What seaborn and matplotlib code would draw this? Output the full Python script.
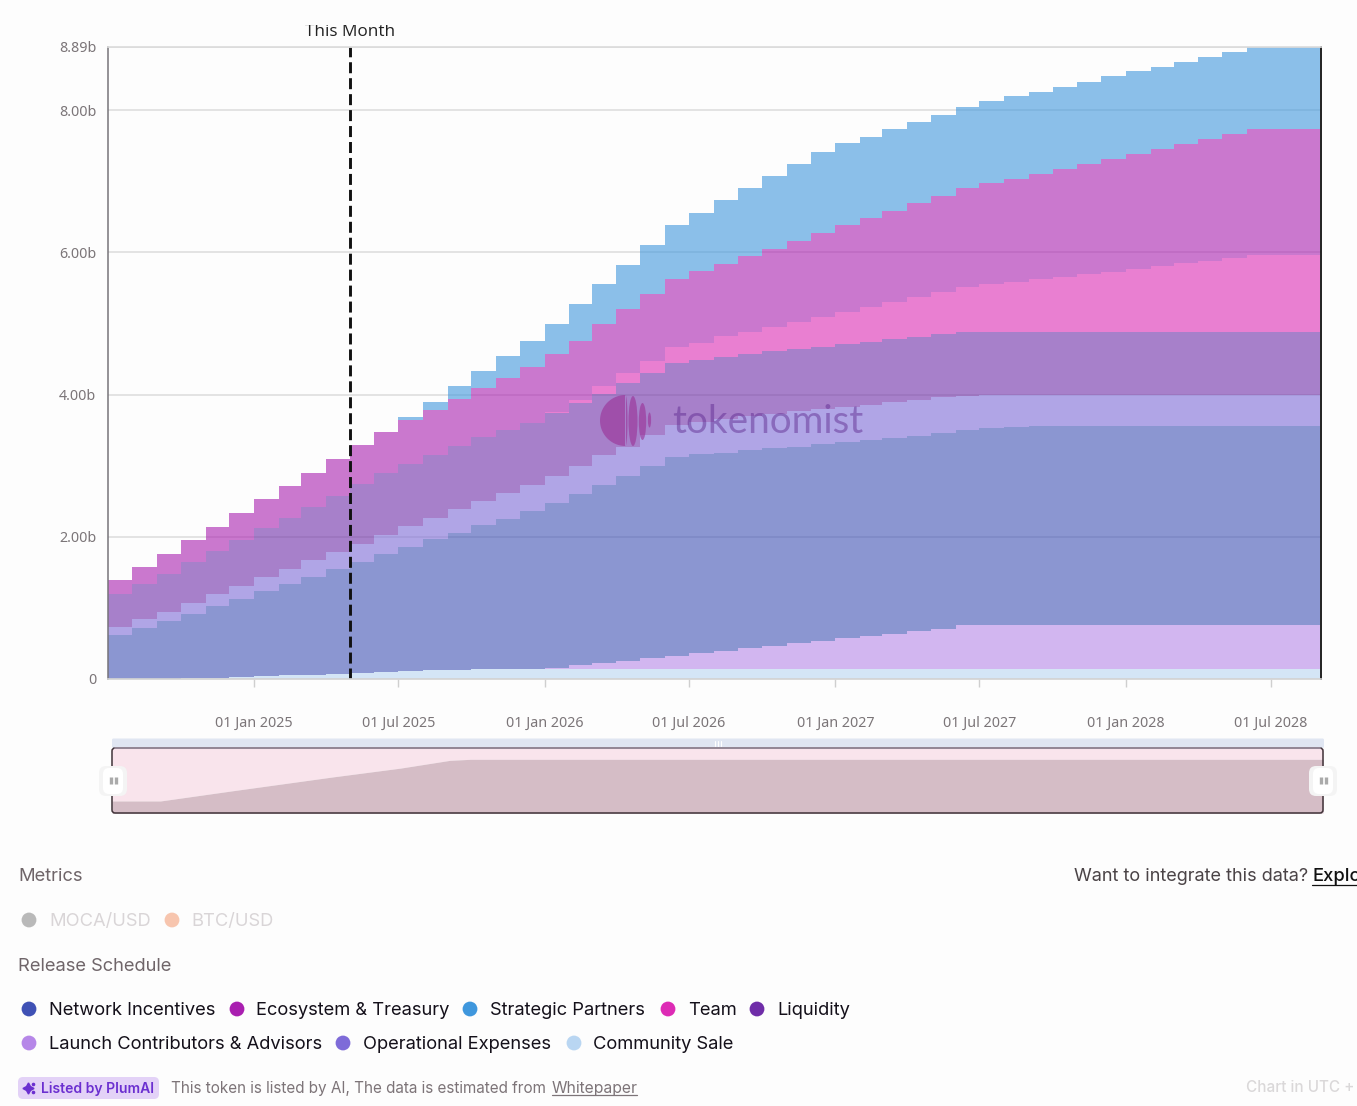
"""
Token release schedule chart (stacked monthly steps) with the page controls around it
"""

import matplotlib
matplotlib.use('Agg')
import matplotlib.dates as mdates
import matplotlib.pyplot as plt
import numpy as np
import pandas as pd
import seaborn as sns
from matplotlib.patches import Circle, Ellipse, FancyBboxPatch, Polygon
from matplotlib.transforms import Bbox

W, H = 1357, 1106
BG = '#fdfdfd'
UI_FONT = 'Inter'
AXIS_FONT = 'Noto Sans'

# Top of each stacked band in billions, one value per month from Jul 2024
community_top = [0, 0, 0, .01, .02, .03, .04, .05, .06, .07, .085, .10, .11, .12, .13, .135, .14, .14,
                 .14, .14, .14, .14, .14, .14, .14, .14, .14, .14, .14, .14, .14, .14, .14, .14, .14, .14,
                 .14, .14, .14, .14, .14, .14, .14, .14, .14, .14, .14, .14, .14, .14]
launch_top = [0, 0, 0, .01, .02, .03, .04, .05, .06, .07, .085, .10, .11, .12, .13, .135, .14, .14,
              .155, .19, .22, .25, .29, .32, .36, .40, .43, .47, .50, .54, .57, .60, .64, .67, .71, .755,
              .76, .76, .76, .76, .76, .76, .76, .76, .76, .76, .76, .76, .76, .76]
network_top = [.62, .72, .82, .91, 1.025, 1.13, 1.24, 1.34, 1.44, 1.545, 1.65, 1.755, 1.86, 1.965, 2.06,
               2.16, 2.255, 2.365, 2.48, 2.60, 2.725, 2.85, 2.99, 3.12, 3.16, 3.18, 3.22, 3.25, 3.27,
               3.30, 3.33, 3.36, 3.39, 3.42, 3.46, 3.50, 3.53, 3.55, 3.555, 3.555, 3.555, 3.555, 3.555,
               3.555, 3.555, 3.555, 3.555, 3.555, 3.555, 3.555]
opex_top = [.73, .84, .945, 1.07, 1.19, 1.31, 1.44, 1.545, 1.67, 1.79, 1.905, 2.02, 2.15, 2.27, 2.39,
            2.50, 2.61, 2.725, 2.85, 2.99, 3.145, 3.27, 3.43, 3.57, 3.62, 3.66, 3.70, 3.73, 3.77, 3.80,
            3.83, 3.86, 3.89, 3.93, 3.96, 3.985, 4.0, 4.0, 4.0, 4.0, 4.0, 4.0, 4.0, 4.0, 4.0, 4.0, 4.0,
            4.0, 4.0, 4.0]
liquidity_top = [1.19, 1.34, 1.48, 1.65, 1.80, 1.96, 2.12, 2.27, 2.42, 2.58, 2.74, 2.90, 3.02, 3.155,
                 3.28, 3.40, 3.50, 3.605, 3.74, 3.88, 4.01, 4.16, 4.30, 4.45, 4.49, 4.53, 4.57, 4.61,
                 4.64, 4.67, 4.71, 4.74, 4.78, 4.81, 4.85, 4.875, 4.88, 4.88, 4.88, 4.88, 4.88, 4.88,
                 4.88, 4.88, 4.88, 4.88, 4.88, 4.88, 4.88, 4.88]
team_top = [1.19, 1.34, 1.48, 1.65, 1.80, 1.96, 2.12, 2.27, 2.42, 2.58, 2.74, 2.90, 3.02, 3.155, 3.28,
            3.40, 3.50, 3.605, 3.76, 3.93, 4.115, 4.30, 4.475, 4.67, 4.73, 4.82, 4.88, 4.95, 5.02, 5.09,
            5.16, 5.23, 5.31, 5.38, 5.45, 5.52, 5.56, 5.59, 5.63, 5.66, 5.70, 5.73, 5.77, 5.81, 5.85,
            5.88, 5.92, 5.96, 5.96, 5.96]
ecosystem_top = [1.39, 1.58, 1.76, 1.95, 2.14, 2.33, 2.53, 2.71, 2.90, 3.09, 3.29, 3.47, 3.64, 3.79,
                 3.94, 4.09, 4.24, 4.39, 4.57, 4.76, 4.99, 5.20, 5.42, 5.63, 5.74, 5.84, 5.955, 6.05,
                 6.16, 6.27, 6.38, 6.48, 6.58, 6.69, 6.79, 6.90, 6.97, 7.04, 7.10, 7.17, 7.24, 7.32,
                 7.39, 7.46, 7.53, 7.60, 7.67, 7.73, 7.73, 7.73]
strategic_top = [1.39, 1.58, 1.76, 1.95, 2.14, 2.33, 2.53, 2.71, 2.90, 3.09, 3.29, 3.47, 3.68, 3.90,
                 4.115, 4.335, 4.54, 4.75, 5.0, 5.27, 5.55, 5.83, 6.11, 6.39, 6.56, 6.74, 6.91, 7.08,
                 7.25, 7.42, 7.54, 7.63, 7.73, 7.84, 7.94, 8.05, 8.13, 8.20, 8.26, 8.33, 8.40, 8.48,
                 8.55, 8.61, 8.68, 8.75, 8.82, 8.89, 8.89, 8.89]

# Bands bottom to top
band_names = ['Community Sale', 'Launch Contributors & Advisors', 'Network Incentives',
              'Operational Expenses', 'Liquidity', 'Team', 'Ecosystem & Treasury', 'Strategic Partners']
band_tops = [community_top, launch_top, network_top, opex_top, liquidity_top, team_top,
             ecosystem_top, strategic_top]
band_colors = ['#b9d6f2', '#b687e8', '#3f51b5', '#7e6bd8', '#6f2da8', '#dd2bb5', '#a91fb0', '#3f97dd']

y_ticks = [0, 2, 4, 6, 8, 8.89]
y_labels = ['0', '2.00b', '4.00b', '6.00b', '8.00b', '8.89b']
x_ticks = ['2025-01-01', '2025-07-01', '2026-01-01', '2026-07-01', '2027-01-01', '2027-07-01',
           '2028-01-01', '2028-07-01']
x_labels = ['01 Jan 2025', '01 Jul 2025', '01 Jan 2026', '01 Jul 2026', '01 Jan 2027', '01 Jul 2027',
            '01 Jan 2028', '01 Jul 2028']
this_month = '2025-05-01'

# Range slider preview, share of slider width against share of slider height
nav_x = [0, .04, .10, .182, .238, .279, .296, 1]
nav_y = [.185, .185, .343, .554, .69, .81, .826, .826]

# Legend rows: label, dot x, text x, row y
legend_rows = [('Network Incentives', 29, 49, 1009), ('Ecosystem & Treasury', 237, 256, 1009),
               ('Strategic Partners', 470, 490, 1009), ('Team', 668, 688, 1009),
               ('Liquidity', 757, 777, 1009), ('Launch Contributors & Advisors', 29, 49, 1043),
               ('Operational Expenses', 343, 363, 1043), ('Community Sale', 574, 593, 1043)]

sns.set_theme(style='white')
plt.rcParams['font.family'] = [UI_FONT, 'DejaVu Sans']

months = pd.date_range('2024-07-01', '2028-09-01', freq='MS')
edges = mdates.date2num(months)
tops = np.array(band_tops)
amounts = np.diff(np.vstack([np.zeros(len(months) - 1), tops]), axis=0)

df = pd.DataFrame({
    'date': np.tile(edges[:-1], len(band_names)),
    'series': np.repeat(band_names, len(months) - 1),
    'value': amounts.ravel(),
})

fig = plt.figure(figsize=(W / 100, H / 100), dpi=100, facecolor=BG)


def px_axes(left, top, right, bottom):
    return fig.add_axes([left / W, 1 - bottom / H, (right - left) / W, (bottom - top) / H])


# Main chart
ax = px_axes(108, 47, 1321, 679)
ax.set_facecolor(BG)
ax.set_axisbelow(True)
ax.grid(True, axis='y', color='#dcdcdc', linewidth=1.1)
sns.histplot(data=df, x='date', weights='value', hue='series', hue_order=band_names[::-1],
             multiple='stack', element='step', bins=list(edges), palette=dict(zip(band_names, band_colors)),
             alpha=0.6, linewidth=0, legend=False, ax=ax)
ax.set_xlim(edges[0] + 0.5, edges[-1] + 1)
ax.set_ylim(0, 8.89)
ax.set_xlabel('')
ax.set_ylabel('')
ax.set_yticks(y_ticks)
ax.set_yticklabels(y_labels, family=AXIS_FONT, fontsize=10.3, color='#7b7578')
ax.set_xticks(mdates.date2num(pd.to_datetime(x_ticks)))
ax.set_xticklabels(x_labels, family=AXIS_FONT, fontsize=10.3, color='#7b7578')
ax.tick_params(axis='y', length=0, pad=8.5)
ax.tick_params(axis='x', length=6, width=1, color='#cfcfcf', pad=20.5, bottom=True)
for side in ['top', 'bottom', 'left', 'right']:
    ax.spines[side].set_visible(True)
ax.spines['top'].set_color('#dcdcdc')
ax.spines['bottom'].set_color('#d4d4d4')
ax.spines['left'].set_color('#77747a')
ax.spines['left'].set_linewidth(1.1)
ax.spines['right'].set_color('#111111')
ax.spines['right'].set_linewidth(1.3)
ax.axvline(mdates.date2num(pd.Timestamp(this_month)), color='#111111', linewidth=2.1, dashes=(3.77, 1.7))

# Range slider preview
nav = px_axes(112, 748, 1323, 813)
nav.set_xlim(0, 1)
nav.set_ylim(0, 1)
nav.axis('off')
nav.fill_between(nav_x, nav_y, 1, color='#f9e4ec', linewidth=0)
nav.fill_between(nav_x, 0, nav_y, color='#d5bdc6', linewidth=0)

# Everything else is placed in page pixels
ui = fig.add_axes([0, 0, 1, 1], facecolor='none')
ui.set_xlim(0, W)
ui.set_ylim(H, 0)
ui.axis('off')


def label(x, y, s, color, size=13.2, weight='normal', ha='left', family=UI_FONT):
    return ui.text(x, y + 1.5, s, color=color, fontsize=size, fontweight=weight, ha=ha, va='center',
                   family=family)


def lens(cx, cy, half_w, half_h, color):
    ui.add_patch(Ellipse((cx, cy), half_w * 2, half_h * 2, facecolor=color, edgecolor='none', alpha=.6))


# This Month label, cut off at the top in the source
month_text = label(350, 30, 'This Month', '#222222', size=12.3, ha='center', family='Open Sans')
month_text.set_clip_box(Bbox([[290, H - 42], [420, H - 25]]))
month_text.set_clip_on(True)

# Watermark
logo_color = '#9a2f96'
t = np.linspace(np.pi / 2, 3 * np.pi / 2, 60)
left_arc = np.column_stack([625.5 + 25.5 * np.cos(t), 420.5 + 25.5 * np.sin(t)])
right_arc = np.column_stack([625.5 + 2 * np.cos(t[::-1] + np.pi), 420.5 + 25.5 * np.sin(t[::-1] + np.pi)])
ui.add_patch(Polygon(np.vstack([left_arc, right_arc]), closed=True, facecolor=logo_color,
                     edgecolor='none', alpha=.6))
lens(633, 421, 4.5, 25, logo_color)
lens(642.5, 421.5, 3.7, 18.5, logo_color)
lens(649.5, 420, 1.6, 7.5, logo_color)
ui.text(672, 422, 'tokenomist', color='#5f2a90', alpha=.48, fontsize=27.8, fontweight='normal',
        va='center', family='Lato')

# Slider frame, top band and handles
ui.add_patch(FancyBboxPatch((112, 738.5), 1212, 9.5, boxstyle='round,pad=0,rounding_size=1.5',
                            facecolor='#e0e6f2', edgecolor='none'))
ui.add_patch(FancyBboxPatch((112, 748), 1211, 65, boxstyle='round,pad=0,rounding_size=3',
                            facecolor='none', edgecolor='#3f3238', linewidth=1.1))
ui.plot([115, 1320], [748, 748], color='#9a8d9c', linewidth=1.3)
for x in [714.5, 717.5, 720.5]:
    ui.plot([x, x], [741, 746], color='#ffffff', linewidth=.8)
for x in [113, 1323]:
    ui.add_patch(FancyBboxPatch((x - 14, 766), 28, 30, boxstyle='round,pad=0,rounding_size=7',
                                facecolor='#f4f4f4', edgecolor='none'))
    ui.add_patch(FancyBboxPatch((x - 10, 768), 20, 26, boxstyle='round,pad=0,rounding_size=6',
                                facecolor='#ffffff', edgecolor='none'))
    for dx in [-2.5, 2.5]:
        ui.plot([x + dx, x + dx], [777, 784], color='#aaaaaa', linewidth=2.4, solid_capstyle='butt')

# Metrics block
label(18.5, 875, 'Metrics', '#6f6569')
ui.add_patch(Circle((29, 920), 7.4, facecolor='#b9b9b9', edgecolor='none'))
label(49, 920.5, 'MOCA/USD', '#d9d5d7')
ui.add_patch(Circle((172, 920), 7.4, facecolor='#f7c5ae', edgecolor='none'))
label(191, 920.5, 'BTC/USD', '#d9d5d7')
label(18.5, 965, 'Release Schedule', '#6f6569')

# Legend
legend_colors = dict(zip(band_names, band_colors))
for name, dot_x, text_x, row_y in legend_rows:
    ui.add_patch(Circle((dot_x, row_y), 7.4, facecolor=legend_colors[name], edgecolor='none'))
    label(text_x, row_y, name, '#14101a')

# Footer
ui.add_patch(FancyBboxPatch((18, 1077), 141, 22, boxstyle='round,pad=0,rounding_size=5',
                            facecolor='#e3d2f7', edgecolor='none'))
ui.plot([28], [1088], marker=(4, 1, 0), markersize=8, color='#6b2fd0', linewidth=0)
ui.plot([33, 33], [1083.5, 1092], marker='o', markersize=1.6, color='#6b2fd0', linewidth=0)
label(41, 1087, 'Listed by PlumAI', '#6b2fd0', size=10.05, weight='semibold')
label(171, 1086.5, 'This token is listed by AI, The data is estimated from', '#7d7478', size=11)
label(552, 1086.5, 'Whitepaper', '#7d7478', size=11.3)
ui.plot([552, 637], [1095, 1095], color='#7d7478', linewidth=.9)
label(1074, 875, 'Want to integrate this data?', '#4a4346', size=13)
label(1312, 875, 'Explore', '#111111', weight='medium')
ui.plot([1312, 1357], [885, 885], color='#111111', linewidth=.9)
label(1246, 1086.5, 'Chart in UTC +', '#dad8d9', size=11, weight='medium')

fig.savefig('out.png', dpi=100, facecolor=BG)
